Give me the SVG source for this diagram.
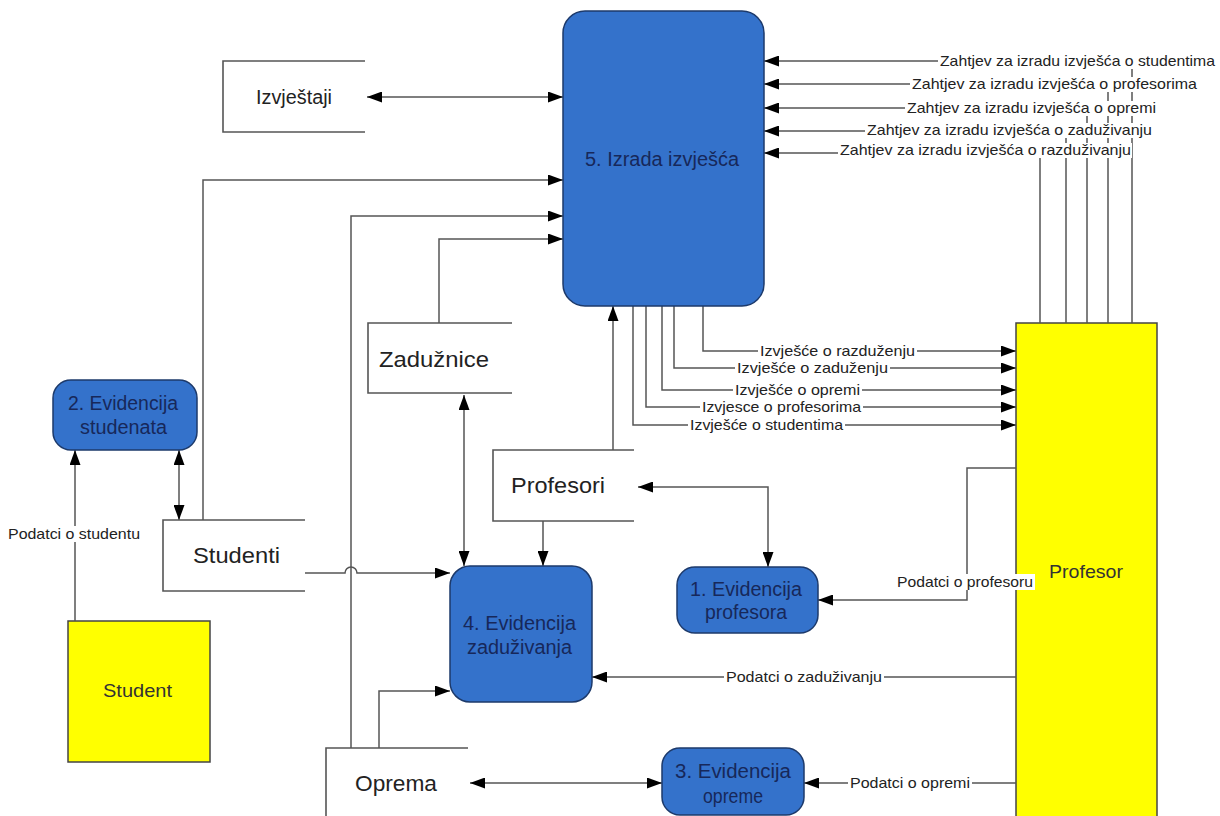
<svg xmlns="http://www.w3.org/2000/svg" width="1220" height="816" viewBox="0 0 1220 816">
<style>
.proc{fill:#3472cb;stroke:#1d3a6b;stroke-width:1.5}
.proc-t{font-family:"Liberation Sans",Arial,sans-serif;font-size:19.5px;fill:#17285a;text-anchor:middle}
.store{fill:none;stroke:#555;stroke-width:1.6}
.store-t{font-family:"Liberation Sans",Arial,sans-serif;font-size:22px;fill:#222}
.ext{fill:#ffff00;stroke:#444;stroke-width:1.5}
.ext-t{font-family:"Liberation Sans",Arial,sans-serif;font-size:19px;fill:#333}
.c{fill:none;stroke:#555;stroke-width:1.5}
.a{marker-end:url(#ah)}
.b{marker-start:url(#ah);marker-end:url(#ah)}
.lbl{font-family:"Liberation Sans",Arial,sans-serif;font-size:15px;fill:#222}
.bg{fill:#fff}
</style>
<defs>
<marker id="ah" viewBox="0 0 15 11" refX="15" refY="5.5" markerWidth="15" markerHeight="11" markerUnits="userSpaceOnUse" orient="auto-start-reverse">
<path d="M0,0 L15,5.5 L0,11 z" fill="#000"/>
</marker>
</defs>
<rect width="1220" height="816" fill="#fff"/>

<g id="student">
<rect class="ext" x="68" y="621" width="142" height="141"/>
<text class="ext-t" x="103" y="697" textLength="69" lengthAdjust="spacingAndGlyphs">Student</text>
</g>
<g id="profesor">
<rect class="ext" x="1016" y="323" width="141" height="500"/>
<text class="ext-t" x="1049" y="578" textLength="74" lengthAdjust="spacingAndGlyphs">Profesor</text>
</g>

<g id="connectors">
<path class="c b" d="M367,97 H563"/>
<path class="c a" d="M203,520 V180 H563"/>
<path class="c a" d="M351,748 V216 H563"/>
<path class="c a" d="M439,323 V239 H563"/>
<path class="c a" d="M1132,323 V61 H764"/>
<path class="c a" d="M1108,323 V84 H764"/>
<path class="c a" d="M1087,323 V108 H764"/>
<path class="c a" d="M1066,323 V131 H764"/>
<path class="c a" d="M1040,323 V153 H764"/>
<path class="c a" d="M703,306 V351 H1016"/>
<path class="c a" d="M674,306 V368 H1016"/>
<path class="c a" d="M662,306 V390 H1016"/>
<path class="c a" d="M646,306 V407 H1016"/>
<path class="c a" d="M633,306 V425 H1016"/>
<path class="c a" d="M613,450 V306"/>
<path class="c b" d="M464,395 V566"/>
<path class="c a" d="M543,521 V566"/>
<path class="c b" d="M638,487 H768 V567"/>
<path class="c a" d="M305,573 H345 A6,6 0 0 1 357,573 H450"/>
<path class="c a" d="M379,748 V691 H450"/>
<path class="c a" d="M1016,677 H592"/>
<path class="c a" d="M1016,468 H967 V600 H818"/>
<path class="c b" d="M470,783 H662"/>
<path class="c a" d="M1016,783 H804"/>
<path class="c a" d="M75,621 V450"/>
<path class="c b" d="M179,450 V520"/>

<g id="labels">
<rect class="bg" x="938" y="54" width="279" height="15"/>
<text class="lbl" x="940" y="66" textLength="275" lengthAdjust="spacingAndGlyphs">Zahtjev za izradu izvješća o studentima</text>
<rect class="bg" x="910" y="77" width="289" height="15"/>
<text class="lbl" x="912" y="89" textLength="285" lengthAdjust="spacingAndGlyphs">Zahtjev za izradu izvješća o profesorima</text>
<rect class="bg" x="905" y="101" width="253" height="15"/>
<text class="lbl" x="907" y="113" textLength="249" lengthAdjust="spacingAndGlyphs">Zahtjev za izradu izvješća o opremi</text>
<rect class="bg" x="865" y="123" width="289" height="15"/>
<text class="lbl" x="867" y="135" textLength="285" lengthAdjust="spacingAndGlyphs">Zahtjev za izradu izvješća o zaduživanju</text>
<rect class="bg" x="838" y="143" width="294" height="15"/>
<text class="lbl" x="840" y="155" textLength="291" lengthAdjust="spacingAndGlyphs">Zahtjev za izradu izvješća o razduživanju</text>

<rect class="bg" x="758" y="344" width="159" height="14"/>
<text class="lbl" x="760" y="356" textLength="155" lengthAdjust="spacingAndGlyphs">Izvješće o razduženju</text>
<rect class="bg" x="735" y="361" width="155" height="14"/>
<text class="lbl" x="737" y="373" textLength="151" lengthAdjust="spacingAndGlyphs">Izvješće o zaduženju</text>
<rect class="bg" x="733" y="383" width="129" height="14"/>
<text class="lbl" x="735" y="395" textLength="125" lengthAdjust="spacingAndGlyphs">Izvješće o opremi</text>
<rect class="bg" x="700" y="400" width="163" height="14"/>
<text class="lbl" x="702" y="412" textLength="159" lengthAdjust="spacingAndGlyphs">Izvjesce o profesorima</text>
<rect class="bg" x="688" y="418" width="157" height="14"/>
<text class="lbl" x="690" y="430" textLength="153" lengthAdjust="spacingAndGlyphs">Izvješće o studentima</text>

<rect class="bg" x="6" y="526" width="136" height="16"/>
<text class="lbl" x="8" y="539" textLength="132" lengthAdjust="spacingAndGlyphs">Podatci o studentu</text>
<rect class="bg" x="895" y="574" width="140" height="16"/>
<text class="lbl" x="897" y="587" textLength="136" lengthAdjust="spacingAndGlyphs">Podatci o profesoru</text>
<rect class="bg" x="724" y="670" width="160" height="15"/>
<text class="lbl" x="726" y="682" textLength="156" lengthAdjust="spacingAndGlyphs">Podatci o zaduživanju</text>
<rect class="bg" x="848" y="776" width="124" height="15"/>
<text class="lbl" x="850" y="788" textLength="120" lengthAdjust="spacingAndGlyphs">Podatci o opremi</text>
</g>
</g>

<g id="n5">
<rect class="proc" x="563" y="11" width="201" height="295" rx="22"/>
<text class="proc-t" x="662" y="166" textLength="154" lengthAdjust="spacingAndGlyphs">5. Izrada izvješća</text>
</g>
<g id="n2">
<rect class="proc" x="53" y="380" width="144" height="70" rx="18"/>
<text class="proc-t" x="123" y="410" textLength="110" lengthAdjust="spacingAndGlyphs">2. Evidencija</text>
<text class="proc-t" x="123.5" y="434" textLength="87" lengthAdjust="spacingAndGlyphs">studenata</text>
</g>
<g id="n4">
<rect class="proc" x="450" y="566" width="142" height="136" rx="20"/>
<text class="proc-t" x="519.5" y="630" textLength="113" lengthAdjust="spacingAndGlyphs">4. Evidencija</text>
<text class="proc-t" x="519.5" y="654" textLength="105" lengthAdjust="spacingAndGlyphs">zaduživanja</text>
</g>
<g id="n1">
<rect class="proc" x="677" y="567" width="141" height="66" rx="18"/>
<text class="proc-t" x="746" y="596" textLength="112" lengthAdjust="spacingAndGlyphs">1. Evidencija</text>
<text class="proc-t" x="746" y="619" textLength="82" lengthAdjust="spacingAndGlyphs">profesora</text>
</g>
<g id="n3">
<rect class="proc" x="662" y="748" width="142" height="67" rx="18"/>
<text class="proc-t" x="733" y="778" textLength="116" lengthAdjust="spacingAndGlyphs">3. Evidencija</text>
<text class="proc-t" x="733" y="803" textLength="60" lengthAdjust="spacingAndGlyphs">opreme</text>
</g>

<g id="izvjestaji">
<path class="store" d="M365,61 H223 V132 H365"/>
<text class="store-t" x="256" y="104" textLength="76" lengthAdjust="spacingAndGlyphs" style="font-size:20px">Izvještaji</text>
</g>
<g id="zaduznice">
<path class="store" d="M512,323 H368 V393 H512"/>
<text class="store-t" x="379" y="367" textLength="110" lengthAdjust="spacingAndGlyphs">Zadužnice</text>
</g>
<g id="studenti">
<path class="store" d="M305,520 H163 V591 H305"/>
<text class="store-t" x="193" y="563" textLength="87" lengthAdjust="spacingAndGlyphs">Studenti</text>
</g>
<g id="profesori">
<path class="store" d="M634,450 H493 V521 H634"/>
<text class="store-t" x="511" y="493" textLength="94" lengthAdjust="spacingAndGlyphs">Profesori</text>
</g>
<g id="oprema">
<path class="store" d="M468,748 H326 V820"/>
<text class="store-t" x="355" y="791" textLength="82" lengthAdjust="spacingAndGlyphs">Oprema</text>
</g>
</svg>
